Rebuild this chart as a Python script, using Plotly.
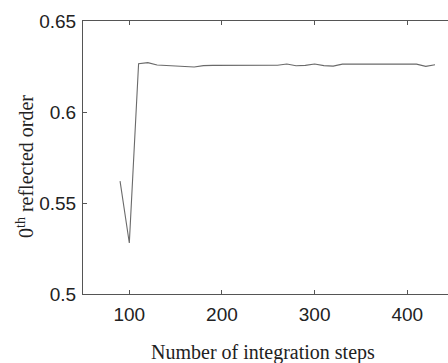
import plotly.graph_objects as go

steps = [90, 100, 110, 120, 130, 140, 150, 160, 170, 180, 190, 200, 210, 220, 230,
         240, 250, 260, 270, 280, 290, 300, 310, 320, 330, 340, 350, 360, 370, 380,
         390, 400, 410, 420, 430]
order0 = [0.562, 0.528, 0.6265, 0.6271, 0.6258, 0.6256, 0.6256, 0.6250, 0.6247, 0.6255,
          0.6256, 0.6256, 0.6256, 0.6256, 0.6256, 0.6256, 0.6256, 0.6257, 0.6264, 0.6254,
          0.6256, 0.6264, 0.6255, 0.6252, 0.6263, 0.6263, 0.6263, 0.6263, 0.6263, 0.6263,
          0.6263, 0.6263, 0.6263, 0.6251, 0.6260]

x_ticks = [100, 200, 300, 400]
y_ticks = [0.5, 0.55, 0.6, 0.65]
y_labels = ["0.5", "0.55", "0.6", "0.65"]

fig = go.Figure(go.Scatter(x=steps, y=order0, mode="lines",
                           line=dict(color="#6a6a6a", width=1.1)))

axis_color = "#555555"
fig.update_layout(
    width=448, height=363,
    margin=dict(l=83, r=0, t=21, b=69),
    plot_bgcolor="white", paper_bgcolor="white",
    showlegend=False,
    font=dict(family="Liberation Sans, Arial, sans-serif", size=19, color="#222222"),
    xaxis=dict(range=[50, 444], tickvals=x_ticks, ticks="inside", ticklen=4,
               tickcolor=axis_color, showline=True, linecolor=axis_color, linewidth=1,
               mirror="ticks", showgrid=False, zeroline=False, ticklabelstandoff=3),
    yaxis=dict(range=[0.5, 0.65], tickvals=y_ticks, ticktext=y_labels, ticks="inside",
               ticklen=4, tickcolor=axis_color, showline=True, linecolor=axis_color,
               linewidth=1, showgrid=False, zeroline=False, ticklabelstandoff=2),
    annotations=[
        dict(text="Number of integration steps", xref="paper", yref="paper",
             x=(263 - 83) / 365, y=-(352 - 294) / 273, showarrow=False,
             font=dict(family="Liberation Serif, Times New Roman, serif", size=20,
                       color="#222222"),
             xanchor="center", yanchor="middle"),
        dict(text="0<sup>th</sup> reflected order", xref="paper", yref="paper",
             x=-(83 - 25) / 365, y=(294 - 166) / 273, showarrow=False, textangle=-90,
             font=dict(family="Liberation Serif, Times New Roman, serif", size=20,
                       color="#222222"),
             xanchor="center", yanchor="middle"),
    ],
)

fig.write_html("out.html", config={"displayModeBar": False},
               post_script="document.body.style.margin='0';document.body.style.overflow='hidden';")
